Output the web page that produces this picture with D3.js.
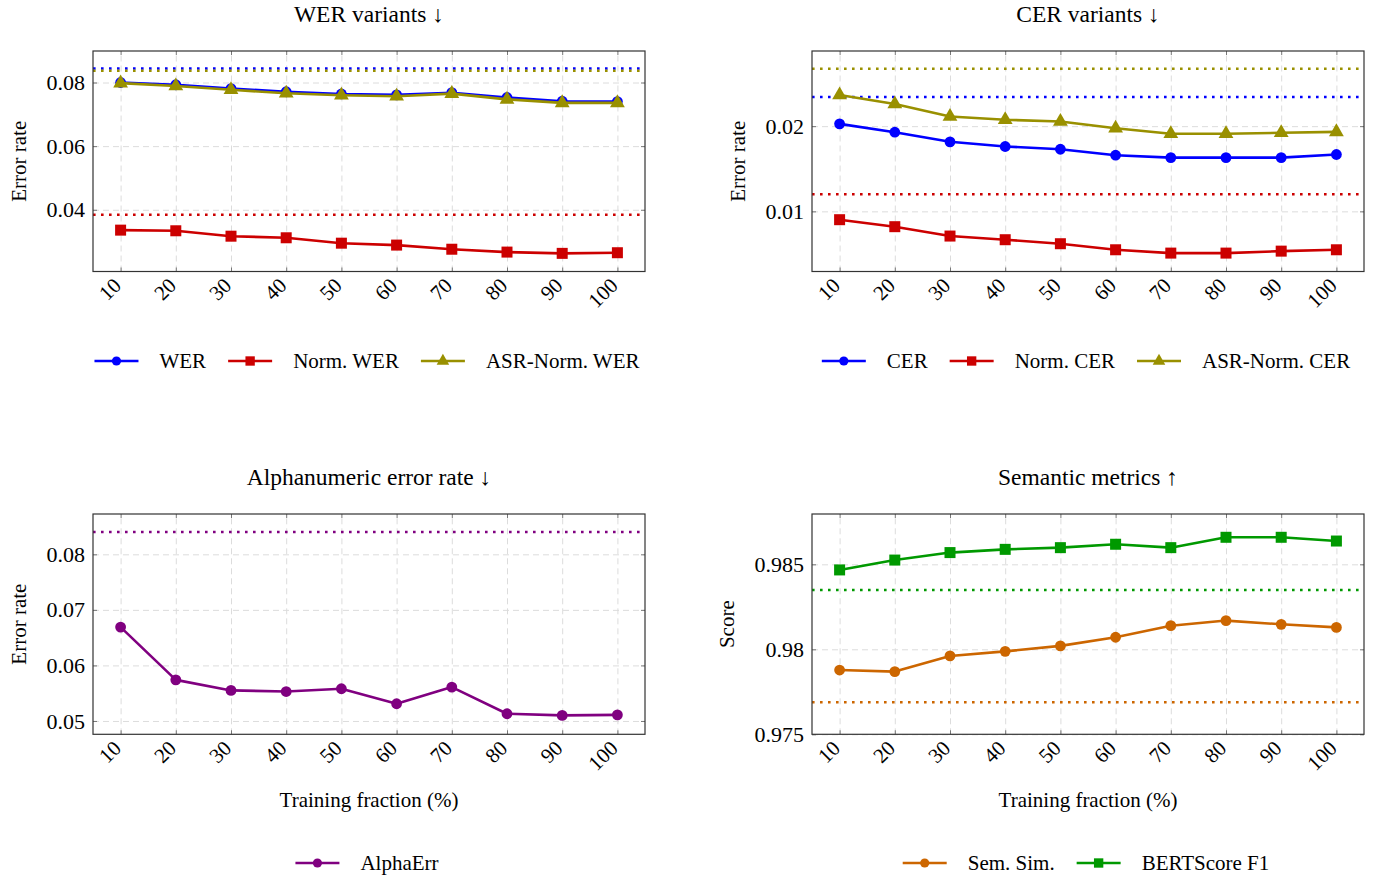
<!DOCTYPE html>
<html><head><meta charset="utf-8">
<script src="https://cdn.jsdelivr.net/npm/d3@7"></script>
<style>
body{margin:0;background:#fff}
text{font-family:"Liberation Serif","Times New Roman",serif;fill:#000}
</style></head>
<body><svg id="chart" width="1374" height="877"></svg>
<script>
// ---------- data ----------
const fractions = [10, 20, 30, 40, 50, 60, 70, 80, 90, 100];
const xTickLabels = ["10","20","30","40","50","60","70","80","90","100"];

const werValues        = [0.0800, 0.0793, 0.0781, 0.0771, 0.0764, 0.0761, 0.0768, 0.0753, 0.0741, 0.0740];
const normWerValues    = [0.0336, 0.0334, 0.0317, 0.0312, 0.0295, 0.0289, 0.0276, 0.0267, 0.0263, 0.0265];
const asrNormWerValues = [0.0798, 0.0789, 0.0777, 0.0766, 0.0760, 0.0757, 0.0765, 0.0747, 0.0736, 0.0736];
const werBaselines     = [0.0844, 0.0384, 0.0837]; // WER, Norm. WER, ASR-Norm. WER

const cerValues        = [0.02027, 0.01929, 0.01816, 0.01761, 0.01729, 0.01659, 0.01631, 0.01631, 0.01631, 0.01667];
const normCerValues    = [0.00902, 0.00820, 0.00710, 0.00667, 0.00620, 0.00549, 0.00510, 0.00510, 0.00533, 0.00549];
const asrNormCerValues = [0.02365, 0.02259, 0.02114, 0.02075, 0.02055, 0.01976, 0.01910, 0.01910, 0.01922, 0.01933];
const cerBaselines     = [0.02341, 0.01200, 0.02675];

const alphaErrValues   = [0.0669, 0.0574, 0.0555, 0.0553, 0.0558, 0.0531, 0.0561, 0.0513, 0.0510, 0.0511];
const alphaBaselines   = [0.0840];

const semSimValues     = [0.97878, 0.97869, 0.97961, 0.97988, 0.98020, 0.98071, 0.98139, 0.98169, 0.98147, 0.98129];
const bertScoreValues  = [0.98467, 0.98525, 0.98569, 0.98588, 0.98598, 0.98618, 0.98598, 0.98659, 0.98659, 0.98637];
const semBaselines     = [0.97688, 0.98349];

const werTicks   = [0.04, 0.06, 0.08];
const cerTicks   = [0.01, 0.02];
const alphaTicks = [0.05, 0.06, 0.07, 0.08];
const semTicks   = [0.975, 0.98, 0.985];

// ---------- styles ----------
const BLUE = "#0000ff", RED = "#cc0000", OLIVE = "#999000", PURPLE = "#800080", ORANGE = "#cc6600", GREEN = "#009900";

const panels = [
  { title: "WER variants \u2193", x0: 93, x1: 645, y0: 51, y1: 271.5, yDomain: [0.0206, 0.0899], yTicks: werTicks,
    yLabel: "Error rate", xLabel: null, legendY: 361,
    series: [
      { name: "WER", values: werValues, color: BLUE, marker: "circle", base: werBaselines[0] },
      { name: "Norm. WER", values: normWerValues, color: RED, marker: "square", base: werBaselines[1] },
      { name: "ASR-Norm. WER", values: asrNormWerValues, color: OLIVE, marker: "triangle", base: werBaselines[2] }
    ] },
  { title: "CER variants \u2193", x0: 812, x1: 1364, y0: 51, y1: 271.5, yDomain: [0.00294, 0.02882], yTicks: cerTicks,
    yLabel: "Error rate", xLabel: null, legendY: 361,
    series: [
      { name: "CER", values: cerValues, color: BLUE, marker: "circle", base: cerBaselines[0] },
      { name: "Norm. CER", values: normCerValues, color: RED, marker: "square", base: cerBaselines[1] },
      { name: "ASR-Norm. CER", values: asrNormCerValues, color: OLIVE, marker: "triangle", base: cerBaselines[2] }
    ] },
  { title: "Alphanumeric error rate \u2193", x0: 93, x1: 645, y0: 514, y1: 734.3, yDomain: [0.0476, 0.08726], yTicks: alphaTicks,
    yLabel: "Error rate", xLabel: "Training fraction (%)", legendY: 863,
    series: [
      { name: "AlphaErr", values: alphaErrValues, color: PURPLE, marker: "circle", base: alphaBaselines[0] }
    ] },
  { title: "Semantic metrics \u2191", x0: 812, x1: 1364, y0: 514, y1: 734.3, yDomain: [0.975, 0.98796], yTicks: semTicks,
    yLabel: "Score", xLabel: "Training fraction (%)", legendY: 863,
    series: [
      { name: "Sem. Sim.", values: semSimValues, color: ORANGE, marker: "circle", base: semBaselines[0] },
      { name: "BERTScore F1", values: bertScoreValues, color: GREEN, marker: "square", base: semBaselines[1] }
    ] }
];

const svg = d3.select("#chart");
const fmt = d3.format("~g");

function drawMarker(g, type, cx, cy, color, scale) {
  scale = scale || 1;
  if (type === "circle") {
    g.append("circle").attr("cx", cx).attr("cy", cy).attr("r", 5.4 * scale).attr("fill", color);
  } else if (type === "square") {
    const s = 11 * scale;
    g.append("rect").attr("x", cx - s / 2).attr("y", cy - s / 2).attr("width", s).attr("height", s).attr("fill", color);
  } else {
    g.append("path").attr("d", d3.symbol().type(d3.symbolTriangle).size(95 * scale * scale)())
      .attr("transform", `translate(${cx},${cy})`).attr("fill", color);
  }
}

panels.forEach(p => {
  const g = svg.append("g");
  const x = d3.scaleLinear().domain([5, 105]).range([p.x0, p.x1]);
  const y = d3.scaleLinear().domain(p.yDomain).range([p.y1, p.y0]);
  const W = p.x1 - p.x0, H = p.y1 - p.y0;

  // grid
  g.append("g").attr("transform", `translate(0,${p.y1})`)
    .call(d3.axisBottom(x).tickValues(fractions).tickSize(-H).tickFormat(""))
    .call(a => { a.select(".domain").remove(); a.selectAll("line").attr("stroke", "#dcdcdc").attr("stroke-dasharray", "6,4"); });
  g.append("g").attr("transform", `translate(${p.x0},0)`)
    .call(d3.axisLeft(y).tickValues(p.yTicks).tickSize(-W).tickFormat(""))
    .call(a => { a.select(".domain").remove(); a.selectAll("line").attr("stroke", "#dcdcdc").attr("stroke-dasharray", "6,4"); });

  // baselines (dotted)
  p.series.forEach(s => {
    g.append("line").attr("x1", p.x0).attr("x2", p.x1).attr("y1", y(s.base)).attr("y2", y(s.base))
      .attr("stroke", s.color).attr("stroke-width", 2.5).attr("stroke-dasharray", "2.6,5.4");
  });

  // series
  const line = d3.line().x((d, i) => x(fractions[i])).y(d => y(d));
  p.series.forEach(s => {
    g.append("path").datum(s.values).attr("d", line).attr("fill", "none")
      .attr("stroke", s.color).attr("stroke-width", 2.6).attr("stroke-linejoin", "round");
    s.values.forEach((v, i) => drawMarker(g, s.marker, x(fractions[i]), y(v), s.color));
  });

  // ticks inside frame
  const tickStyle = a => { a.select(".domain").remove(); a.selectAll("line").attr("stroke", "#777").attr("stroke-width", 1); };
  const xb = g.append("g").attr("transform", `translate(0,${p.y1})`)
    .call(d3.axisBottom(x).tickValues(fractions).tickSize(-4).tickPadding(0).tickFormat((d, i) => xTickLabels[i]))
    .call(tickStyle);
  xb.selectAll("text").attr("font-size", 21).attr("fill", "#000")
    .attr("y", 0).attr("dy", "0.35em").attr("text-anchor", "end")
    .attr("transform", "translate(-4,10) rotate(-45)");
  g.append("g").attr("transform", `translate(0,${p.y0})`)
    .call(d3.axisTop(x).tickValues(fractions).tickSize(-4).tickFormat("")).call(tickStyle);
  const yl = g.append("g").attr("transform", `translate(${p.x0},0)`)
    .call(d3.axisLeft(y).tickValues(p.yTicks).tickSize(-4).tickPadding(8).tickFormat(fmt))
    .call(tickStyle);
  yl.selectAll("text").attr("font-size", 22).attr("fill", "#000");
  g.append("g").attr("transform", `translate(${p.x1},0)`)
    .call(d3.axisRight(y).tickValues(p.yTicks).tickSize(-4).tickFormat("")).call(tickStyle);

  // frame
  g.append("rect").attr("x", p.x0).attr("y", p.y0).attr("width", W).attr("height", H)
    .attr("fill", "none").attr("stroke", "#333").attr("stroke-width", 1.2);

  // title
  g.append("text").attr("x", (p.x0 + p.x1) / 2).attr("y", p.y0 - 37).attr("dy", "0.33em")
    .attr("text-anchor", "middle").attr("font-size", 23.5).text(p.title);

  // y label
  const bb = yl.node().getBBox();
  const lx = p.x0 + bb.x - 28;
  g.append("text").attr("transform", `translate(${lx},${(p.y0 + p.y1) / 2}) rotate(-90)`)
    .attr("dy", "0.35em").attr("text-anchor", "middle").attr("font-size", 21).text(p.yLabel);

  // x label
  if (p.xLabel) {
    g.append("text").attr("x", (p.x0 + p.x1) / 2).attr("y", p.y1 + 65).attr("dy", "0.35em")
      .attr("text-anchor", "middle").attr("font-size", 21).text(p.xLabel);
  }

  // legend
  const lg = g.append("g");
  let cx = 0;
  p.series.forEach((s, i) => {
    const item = lg.append("g").attr("transform", `translate(${cx},0)`);
    item.append("line").attr("x1", 0).attr("x2", 44).attr("y1", 0).attr("y2", 0)
      .attr("stroke", s.color).attr("stroke-width", 2.5);
    drawMarker(item, s.marker, 22, 0, s.color, 0.85);
    const t = item.append("text").attr("x", 65).attr("dy", "0.35em").attr("font-size", 21).text(s.name);
    cx += 65 + t.node().getComputedTextLength() + 22;
  });
  const total = cx - 22;
  lg.attr("transform", `translate(${(p.x0 + p.x1) / 2 - 2 - total / 2},${p.legendY})`);
});
</script>
</body></html>
